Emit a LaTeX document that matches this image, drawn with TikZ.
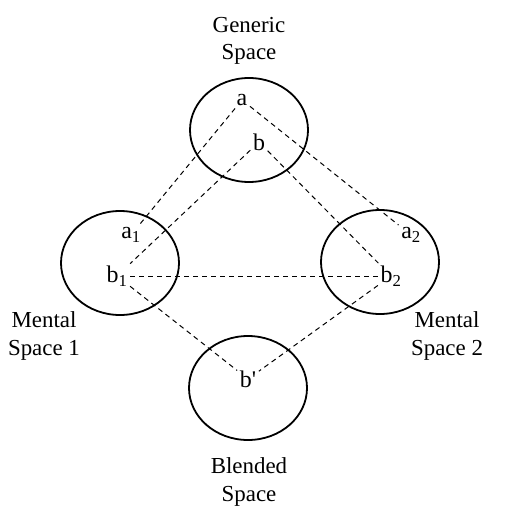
\documentclass[tikz,border=0pt]{standalone}
\usepackage{fontspec}
\setmainfont{Liberation Serif}
\usetikzlibrary{shapes.geometric}
\begin{document}
\begin{tikzpicture}[x=1bp,y=-1bp,
  space/.style={ellipse,draw,line width=1.8bp,minimum width=118bp,minimum height=104bp,inner sep=0pt},
  lbl/.style={inner sep=2.5bp,font=\fontsize{24}{28}\selectfont},
  title/.style={align=center,inner sep=0pt,font=\fontsize{23}{28}\selectfont},
  link/.style={dash pattern=on 5bp off 4bp,line width=1bp}]
\useasboundingbox (0,0) rectangle (517,522);
% circles
\node[space] (G) at (249,130) {};
\node[space] (M1) at (120,263) {};
\node[space] (M2) at (380,262) {};
\node[space] (B) at (248,388) {};
% titles
\node[title,anchor=base] (tG) at (249,60) {Generic\\Space};
\node[title,anchor=base] (tM1) at (44,355) {Mental\\Space 1};
\node[title,anchor=base] (tM2) at (447,355) {Mental\\Space 2};
\node[title,anchor=base] (tB) at (249,501) {Blended\\Space};
% element labels
\node[lbl] (a) at (242,100) {a};
\node[lbl] (b) at (259,142) {b};
\node[lbl] (a1) at (131,235) {a\textsubscript{1}};
\node[lbl] (b1) at (117,276) {b\textsubscript{1}};
\node[lbl] (a2) at (411,235) {a\textsubscript{2}};
\node[lbl] (b2) at (391,276) {b\textsubscript{2}};
\node[lbl] (bp) at (248,379) {b\textquotesingle};
% links
\draw[link] (a) -- (a1);
\draw[link] (a) -- (a2);
\draw[link] (b) -- (b1);
\draw[link] (b) -- (b2);
\draw[link] (b1.east) -- (b2.west);
\draw[link] (b1) -- (bp);
\draw[link] (b2) -- (bp);
\end{tikzpicture}
\end{document}
